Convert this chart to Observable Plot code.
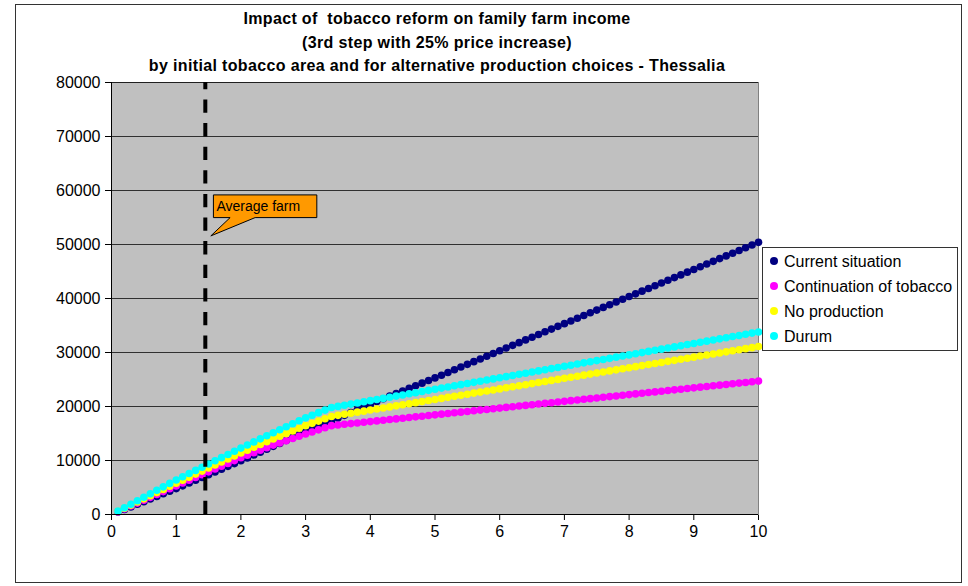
<!DOCTYPE html>
<html><head><meta charset="utf-8">
<script src="https://cdn.jsdelivr.net/npm/d3@7"></script>
<script src="https://cdn.jsdelivr.net/npm/@observablehq/plot@0.6"></script>
<style>
body{margin:0;background:#fff;}
#wrap{position:relative;width:968px;height:586px;overflow:hidden;font-family:"Liberation Sans",Arial,sans-serif;}
#frame{position:absolute;left:15px;top:4px;width:947px;height:579px;border:1.6px solid #333;box-sizing:border-box;}
#title{position:absolute;left:111px;width:652px;top:7px;text-align:center;font-weight:bold;font-size:16px;letter-spacing:0.35px;line-height:23.5px;color:#000;white-space:nowrap;}
#chart{position:absolute;left:0;top:0;}
#legend{position:absolute;left:762px;top:247px;width:196px;height:104px;border:1px solid #333;box-sizing:border-box;background:#fff;}
.row{position:absolute;left:0;height:25px;line-height:25px;font-size:16px;white-space:nowrap;color:#000;}
.row span.m{position:absolute;left:7px;top:8.5px;width:8px;height:8px;border-radius:50%;}
.row span.t{position:absolute;left:21px;}
</style></head>
<body><div id="wrap"><div id="frame"></div><div id="chart"></div><div id="title"></div><div id="legend"></div></div>
<script>
const titleLines = ["Impact of \u00a0tobacco reform on family farm income","(3rd step with 25% price increase)","by initial tobacco area and for alternative production choices - Thessalia"];
const seriesNames = ["Current situation","Continuation of tobacco","No production","Durum"];
const seriesColors = ["#000080","#FF00FF","#FFFF00","#00FFFF"];
const xTicks = [0,1,2,3,4,5,6,7,8,9,10];
const yTicks = [0,10000,20000,30000,40000,50000,60000,70000,80000];
const avgFarm = 1.45;
const calloutLabel = "Average farm";
const calloutY = 51500;

const area = [0.1,0.2,0.3,0.4,0.5,0.6,0.7,0.8,0.9,1.0,
1.1,1.2,1.3,1.4,1.5,1.6,1.7,1.8,1.9,2.0,
2.1,2.2,2.3,2.4,2.5,2.6,2.7,2.8,2.9,3.0,
3.1,3.2,3.3,3.4,3.5,3.6,3.7,3.8,3.9,4.0,
4.1,4.2,4.3,4.4,4.5,4.6,4.7,4.8,4.9,5.0,
5.1,5.2,5.3,5.4,5.5,5.6,5.7,5.8,5.9,6.0,
6.1,6.2,6.3,6.4,6.5,6.6,6.7,6.8,6.9,7.0,
7.1,7.2,7.3,7.4,7.5,7.6,7.7,7.8,7.9,8.0,
8.1,8.2,8.3,8.4,8.5,8.6,8.7,8.8,8.9,9.0,
9.1,9.2,9.3,9.4,9.5,9.6,9.7,9.8,9.9,10.0];

const current = [450,930,1410,1900,2380,2870,3350,3830,4320,4800,
5310,5830,6340,6860,7370,7890,8400,8920,9430,9950,
10480,11020,11550,12090,12620,13160,13690,14230,14760,15300,
15800,16300,16820,17330,17850,18360,18880,19400,19920,20430,
20940,21440,21930,22400,22870,23350,23830,24320,24810,25300,
25800,26300,26810,27310,27810,28310,28810,29310,29820,30320,
30820,31320,31820,32330,32830,33330,33830,34330,34840,35340,
35840,36340,36840,37350,37850,38350,38850,39350,39860,40360,
40860,41360,41860,42370,42870,43370,43870,44370,44880,45380,
45880,46380,46880,47390,47890,48390,48890,49390,49900,50400];

const continuation = [520,1050,1580,2110,2640,3180,3710,4240,4770,5300,
5820,6340,6860,7380,7900,8420,8940,9460,9980,10500,
10970,11440,11910,12380,12850,13260,13670,14080,14490,14900,
15290,15680,16060,16450,16580,16700,16830,16950,17080,17200,
17330,17450,17580,17700,17830,17950,18080,18200,18330,18450,
18580,18700,18830,18950,19080,19200,19330,19450,19580,19700,
19830,19950,20080,20200,20330,20450,20580,20700,20830,20950,
21080,21200,21330,21450,21580,21700,21830,21950,22080,22200,
22330,22450,22580,22700,22830,22950,23080,23200,23330,23450,
23580,23700,23830,23950,24080,24200,24330,24450,24580,24700];

const noProduction = [580,1160,1740,2320,2900,3480,4060,4640,5220,5800,
6360,6920,7480,8040,8600,9160,9720,10280,10840,11400,
11920,12440,12960,13480,14000,14490,14980,15470,15960,16450,
16880,17300,17730,18160,18360,18560,18750,18950,19140,19340,
19540,19730,19930,20120,20320,20520,20710,20910,21100,21300,
21500,21690,21890,22080,22280,22480,22670,22870,23060,23260,
23460,23650,23850,24040,24240,24440,24630,24830,25020,25220,
25420,25610,25810,26000,26200,26400,26590,26790,26980,27180,
27380,27570,27770,27960,28160,28360,28550,28750,28940,29140,
29340,29530,29730,29920,30120,30320,30510,30710,30900,31100];

const durum = [620,1260,1910,2550,3190,3830,4480,5120,5760,6400,
6990,7580,8170,8760,9350,9940,10530,11120,11710,12300,
12870,13440,14010,14580,15150,15700,16250,16800,17350,17900,
18380,18860,19330,19810,20020,20230,20440,20660,20870,21080,
21290,21500,21720,21930,22140,22350,22560,22780,22990,23200,
23410,23620,23840,24050,24260,24470,24680,24900,25110,25320,
25530,25740,25960,26170,26380,26590,26800,27020,27230,27440,
27650,27860,28080,28290,28500,28710,28920,29140,29350,29560,
29770,29980,30200,30410,30620,30830,31040,31260,31470,31680,
31890,32100,32320,32530,32740,32950,33160,33380,33590,33800];

const seriesValues = [current, continuation, noProduction, durum];

// title
document.getElementById("title").innerHTML = titleLines.map(t => `<div>${t}</div>`).join("");

// legend
document.getElementById("legend").innerHTML = seriesNames.map((n, i) =>
  `<div class="row" style="top:${0.5 + i * 25}px"><span class="m" style="background:${seriesColors[i]}"></span><span class="t">${n}</span></div>`).join("");

const dotMarks = seriesValues.map((vals, i) =>
  Plot.dot(area.map((a, j) => ({area: a, income: vals[j]})),
    {x: "area", y: "income", r: 3.8, fill: seriesColors[i], stroke: "none"}));

const chart = Plot.plot({
  width: 968, height: 586,
  marginLeft: 111, marginRight: 210, marginTop: 82, marginBottom: 72,
  style: {fontFamily: "Liberation Sans, Arial, sans-serif", fontSize: "16px", color: "#000", background: "transparent", overflow: "visible"},
  x: {domain: [0, 10], ticks: xTicks, tickSize: 6, tickPadding: 5, tickFormat: d => String(d), label: null},
  y: {domain: [0, 80000], ticks: yTicks, tickSize: 6, tickPadding: 5, tickFormat: d => String(d), label: null},
  marks: [
    Plot.frame({fill: "#C0C0C0", stroke: "#808080"}),
    Plot.gridY(yTicks.filter(d => d > 0), {stroke: "#000", strokeOpacity: 0.75, strokeWidth: 1}),
    ...dotMarks,
    Plot.ruleX([0], {stroke: "#000", strokeWidth: 1}),
    Plot.ruleY([0], {stroke: "#000", strokeWidth: 1}),
    Plot.ruleX([avgFarm], {y1: 0, y2: 80000, stroke: "#000", strokeWidth: 4, strokeDasharray: "13.3,10.3"})
  ]
});
document.getElementById("chart").appendChild(chart);

// callout anchored to the average-farm line through the plot scales
const sx = chart.scale("x"), sy = chart.scale("y");
const tipX = sx.apply(avgFarm) + 6, tipY = sy.apply(calloutY);
const bx0 = tipX + 2.6, bx1 = bx0 + 103.4, by1 = tipY - 18.3, by0 = by1 - 22.7;
const svg = d3.select(chart);
const g = svg.append("g");
g.append("path")
  .attr("d", `M${bx0},${by0}H${bx1}V${by1}H${tipX + 44.3}L${tipX},${tipY}L${tipX + 19.3},${by1}H${bx0}Z`)
  .attr("fill", "#FF9900").attr("stroke", "#000").attr("stroke-width", 1);
g.append("text").attr("x", bx0 + 3).attr("y", (by0 + by1) / 2).attr("dy", "0.35em")
  .attr("text-anchor", "start").attr("font-size", 14).attr("fill", "#000").text(calloutLabel);
</script></body></html>
